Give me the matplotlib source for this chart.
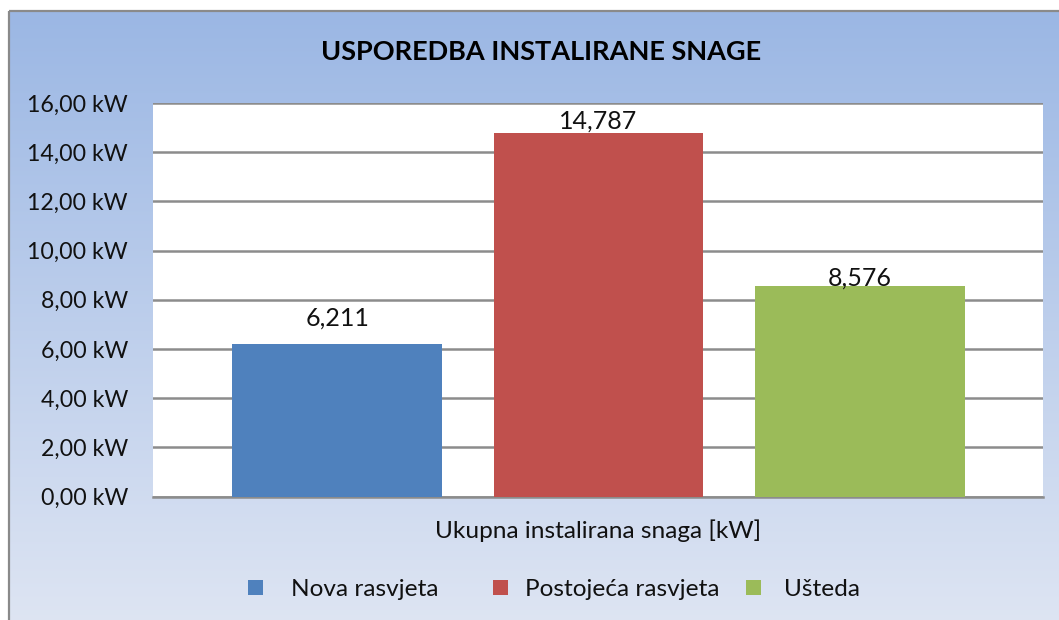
import matplotlib.pyplot as plt
import numpy as np
from matplotlib.patches import Rectangle

# ---- data ----
title = "USPOREDBA INSTALIRANE SNAGE"
category_label = "Ukupna instalirana snaga [kW]"
series_names = ["Nova rasvjeta", "Postojeća rasvjeta", "Ušteda"]
values = [6.211, 14.787, 8.576]
value_labels = ["6,211", "14,787", "8,576"]
label_offsets = [1.05, 0.48, 0.31]
colors = ["#4F81BD", "#C0504D", "#9BBB59"]
yticks = [0, 2, 4, 6, 8, 10, 12, 14, 16]
ytick_labels = [f"{v:.2f}".replace(".", ",") + " kW" for v in yticks]

FONT = ["Lato", "DejaVu Sans"]
plt.rcParams["font.family"] = FONT

W, H = 1059, 620
fig = plt.figure(figsize=(W / 100, H / 100), dpi=100)

# background with gradient and border
bg = fig.add_axes([0, 0, 1, 1], zorder=-10)
bg.axis("off")
top = np.array([155, 183, 228]) / 255
bot = np.array([222, 229, 243]) / 255
t = np.linspace(0, 1, 256)[:, None, None]
grad = top * (1 - t) + bot * t
bg.imshow(grad, extent=[8.5, W + 5, H + 5, 10.5], aspect="auto", interpolation="bilinear")
bg.add_patch(Rectangle((8.5, 10.5), W, H, fill=False, edgecolor="#8a8a8a", lw=1.6))
bg.set_xlim(0, W)
bg.set_ylim(H, 0)

# plot area
left, right, ytop, ybot = 153, 1043, 103, 496.6
ax = fig.add_axes([left / W, 1 - ybot / H, (right - left) / W, (ybot - ytop) / H])
ax.set_facecolor("white")
x = np.arange(len(values))
bars = ax.bar(x, values, width=0.803, color=colors, zorder=3)
ax.set_xlim(-0.704, 2.70)
ax.set_ylim(0, 16)
ax.set_yticks(yticks)
ax.set_yticklabels(ytick_labels, fontsize=16.7, color="#111111")
ax.tick_params(axis="y", length=0, pad=18)
ax.set_xticks([])
ax.yaxis.grid(True, color="#8c8c8c", lw=1.8, zorder=0)
for s in ["left", "right", "top"]:
    ax.spines[s].set_visible(False)
ax.spines["bottom"].set_color("#8c8c8c")
ax.spines["bottom"].set_linewidth(1.8)

for xi, v, lab, off in zip(x, values, value_labels, label_offsets):
    ax.text(xi, v + off, lab, ha="center", va="center", fontsize=18, color="#111111", zorder=4)

fig.text(541 / W, 1 - 52.5 / H, title, ha="center", va="center", fontsize=19.5,
         fontweight="bold", color="black")
bg.text(598, 538, category_label, ha="center", va="baseline", fontsize=17.6, color="#111111")

# legend (manual layout to match reference)
sq_x = [248, 492.5, 746]
txt_x = [291, 525, 784]
for c, name, sx, tx in zip(colors, series_names, sq_x, txt_x):
    bg.add_patch(Rectangle((sx, 580), 15, 15, facecolor=c, edgecolor="none"))
    bg.text(tx, 596, name, ha="left", va="baseline", fontsize=17.6, color="#111111")

fig.savefig("out.png", dpi=100)
